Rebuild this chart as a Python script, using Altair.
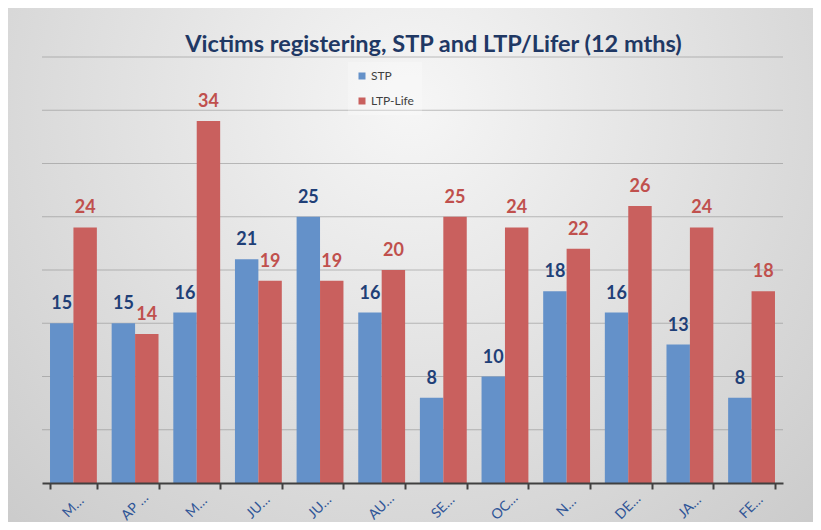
import json
import altair as alt
import pandas as pd

months = ["MARCH", "APRIL", "MAY", "JUNE", "JULY", "AUGUST", "SEPTEMBER",
          "OCTOBER", "NOVEMBER", "DECEMBER", "JANUARY", "FEBRUARY"]
tick_labels = ["M…", "AP …", "M…", "JU…", "JU…", "AU…", "SE…", "OC…",
               "N…", "DE…", "JA…", "FE…"]
stp = [15, 15, 16, 21, 25, 16, 8, 10, 18, 16, 13, 8]
ltp = [24, 14, 34, 19, 19, 20, 25, 24, 22, 26, 24, 18]
series = ["STP", "LTP-Life"]
bar_colors = ["#6491C9", "#C9605E"]
label_colors = ["#1F3F77", "#C0504D"]
grid_values = [5, 10, 15, 20, 25, 30, 35, 40]

title_text = "Victims registering,  STP and LTP/Lifer (12 mths)"

rows = []
for i, m in enumerate(months):
    rows.append({"month": m, "series": series[0], "value": stp[i]})
    rows.append({"month": m, "series": series[1], "value": ltp[i]})
df = pd.DataFrame(rows)
tick_df = pd.DataFrame({"month": months, "tick": tick_labels})
grid_df = pd.DataFrame({"g": grid_values})
bg_df = pd.DataFrame({"t": [title_text]})

W, H = 741, 426
PAD = {"left": 34, "top": 49, "right": 30, "bottom": 39}

x_scale = alt.Scale(paddingInner=0.24, paddingOuter=0.13)
x_enc = alt.X(
    "month:N", sort=months, scale=x_scale,
    axis=alt.Axis(
        title=None, labels=False,
        domainColor="#404040", domainWidth=2, tickColor="#404040",
        tickWidth=2, tickSize=6, tickBand="extent", zindex=1, grid=False),
)
y_scale = alt.Scale(domain=[0, 40], nice=False, zero=True)
xoff = alt.XOffset("series:N", sort=series,
                   scale=alt.Scale(paddingInner=0, paddingOuter=0))

gradient = alt.RadialGradient(
    gradient="radial",
    stops=[alt.GradientStop(offset=0, color="#f6f6f6"),
           alt.GradientStop(offset=1, color="#c4c4c4")],
    x1=0.5, y1=0.3, x2=0.5, y2=0.3, r1=0, r2=0.85,
)

bg = alt.Chart(bg_df).mark_rect(fill=gradient).encode(
    x=alt.value(-PAD["left"]), x2=alt.value(W + PAD["right"]),
    y=alt.value(-PAD["top"]), y2=alt.value(H + PAD["bottom"]),
)

title = alt.Chart(bg_df).mark_text(
    font="Lato", fontSize=23.5, fontWeight="bold", color="#1F3864",
    align="center", baseline="alphabetic",
).encode(
    x=alt.value(W / 2 + 21), y=alt.value(-5), text="t:N",
)

grid = alt.Chart(grid_df).mark_rule(color="#8c8c8c", strokeWidth=1, opacity=0.55).encode(
    y=alt.Y("g:Q", scale=y_scale, axis=None),
)

bars = alt.Chart(df).mark_bar().encode(
    x=x_enc,
    xOffset=xoff,
    y=alt.Y("value:Q", scale=y_scale, axis=None),
    color=alt.Color(
        "series:N", sort=series,
        scale=alt.Scale(domain=series, range=bar_colors),
        legend=alt.Legend(
            title=None, orient="none", legendX=306, legendY=5,
            symbolType="square", symbolSize=49, symbolStrokeWidth=0,
            labelFont="Lato", labelFontSize=12, labelColor="#404040",
            labelFontWeight="normal",
            labelOffset=3, rowPadding=13, padding=8,
            fillColor="rgba(255,255,255,0.25)"),
    ),
)

labels = alt.Chart(df).mark_text(
    baseline="alphabetic", dy=-14, font="Lato", fontSize=18, fontWeight="bold"
).encode(
    x=alt.X("month:N", sort=months, scale=x_scale),
    xOffset=xoff,
    y=alt.Y("value:Q", scale=y_scale, axis=None),
    text=alt.Text("value:Q"),
    fill=alt.Fill("series:N", scale=alt.Scale(domain=series, range=label_colors),
                  legend=None),
)

ticks = alt.Chart(tick_df).mark_text(
    font="Lato", fontSize=14, color="#2F5597",
    align="center", baseline="middle",
).encode(
    x=alt.X("month:N", sort=months, scale=x_scale),
    y=alt.value(H + 24),
    angle=alt.value(315),
    text="tick:N",
)

chart = alt.layer(bg, title, grid, bars, labels, ticks).properties(
    width=W, height=H,
    autosize=alt.AutoSizeParams(type="none"),
    padding=PAD,
).configure(background="#cfcfcf").configure_view(stroke=None)

chart.save("out.html", embed_options={"renderer": "svg", "actions": False})
